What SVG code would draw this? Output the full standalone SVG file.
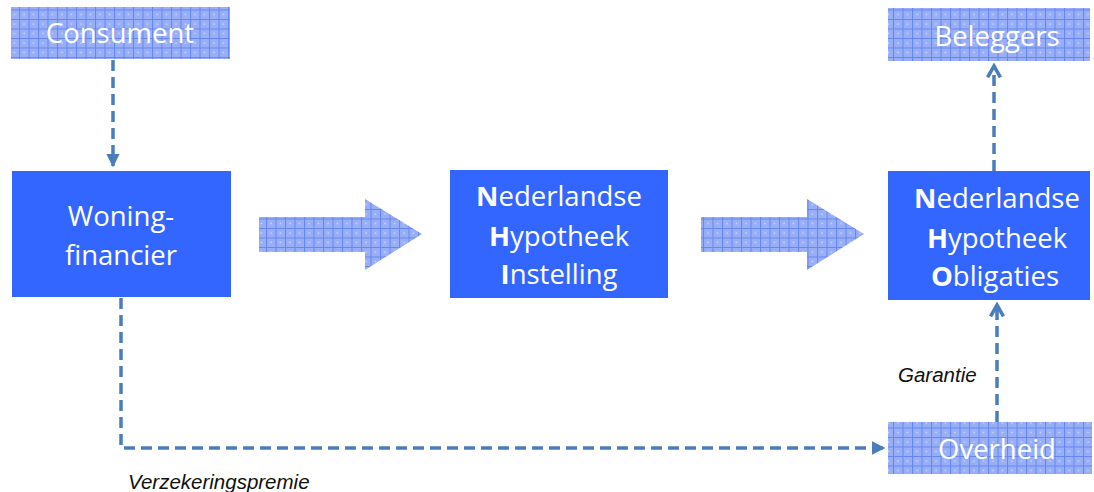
<svg xmlns="http://www.w3.org/2000/svg" width="1094" height="492" viewBox="0 0 1094 492">
<defs>
<pattern id="grid" width="9.5" height="9.5" patternUnits="userSpaceOnUse">
<rect width="9.5" height="9.5" fill="#98AEF6"/>
<path d="M0 0.5H9.5M0.5 0V9.5" stroke="#6586F0" stroke-width="1"/>
<circle cx="5" cy="5" r="0.8" fill="#D6E0FF"/>
</pattern>
<marker id="ah" viewBox="0 0 10 10" refX="8" refY="5" markerWidth="4.6" markerHeight="4.6" orient="auto" markerUnits="strokeWidth">
<path d="M1 1L8 5L1 9" fill="none" stroke="#4A7EBB" stroke-width="2.2"/>
</marker>
<marker id="ah2" viewBox="0 0 10 10" refX="9" refY="5" markerWidth="3.8" markerHeight="3.8" orient="auto" markerUnits="strokeWidth">
<path d="M0 0L10 5L0 10Z" fill="#4A7EBB"/>
</marker>
</defs>
<style>
.solid{fill:#3366FF}
.pat{fill:url(#grid)}
.t{font-family:"Open Sans","Noto Sans","Liberation Sans",sans-serif;font-size:27.5px;fill:#FFFFFF;text-anchor:middle}
.lbl{font-family:"Liberation Sans",Arial,sans-serif;font-size:20.5px;font-style:italic;fill:#111}
.dash{fill:none;stroke:#4A7EBB;stroke-width:3.5;stroke-dasharray:11,6}
</style>
<g id="connectors">
<path class="dash" d="M113 60V166" marker-end="url(#ah2)"/>
<path class="dash" d="M121 298V448H884" marker-end="url(#ah2)"/>
<path class="dash" d="M997 422V305" marker-end="url(#ah)"/>
<path class="dash" d="M994 171V66" marker-end="url(#ah)"/>
<polygon class="pat" points="259,217 365,217 365,199 422,234 365,270 365,252 259,252"/>
<polygon class="pat" points="701,217 807,217 807,199 864,234 807,270 807,252 701,252"/>
</g>
<g id="consument">
<rect class="pat" x="11" y="7" width="219" height="52"/>
<text class="t" x="120" y="43">Consument</text>
</g>
<g id="woningfinancier">
<rect class="solid" x="12" y="171" width="219" height="126"/>
<text class="t" x="121" y="226">Woning-</text>
<text class="t" x="121" y="265">financier</text>
</g>
<g id="nhi">
<rect class="solid" x="450" y="170" width="218" height="128"/>
<text class="t" x="559" y="206"><tspan font-weight="bold">N</tspan>ederlandse</text>
<text class="t" x="559" y="246"><tspan font-weight="bold">H</tspan>ypotheek</text>
<text class="t" x="559" y="284"><tspan font-weight="bold">I</tspan>nstelling</text>
</g>
<g id="nho">
<rect class="solid" x="888" y="171" width="202" height="129"/>
<text class="t" x="997" y="208"><tspan font-weight="bold">N</tspan>ederlandse</text>
<text class="t" x="997" y="248"><tspan font-weight="bold">H</tspan>ypotheek</text>
<text class="t" x="995" y="286"><tspan font-weight="bold">O</tspan>bligaties</text>
</g>
<g id="beleggers">
<rect class="pat" x="888" y="8" width="202" height="53"/>
<text class="t" x="997" y="46">Beleggers</text>
</g>
<g id="overheid">
<rect class="pat" x="888" y="422" width="204" height="52"/>
<text class="t" x="997" y="459">Overheid</text>
</g>
<g id="labels">
<text class="lbl" x="898" y="382">Garantie</text>
<text class="lbl" x="128" y="489">Verzekeringspremie</text>
</g>
</svg>
